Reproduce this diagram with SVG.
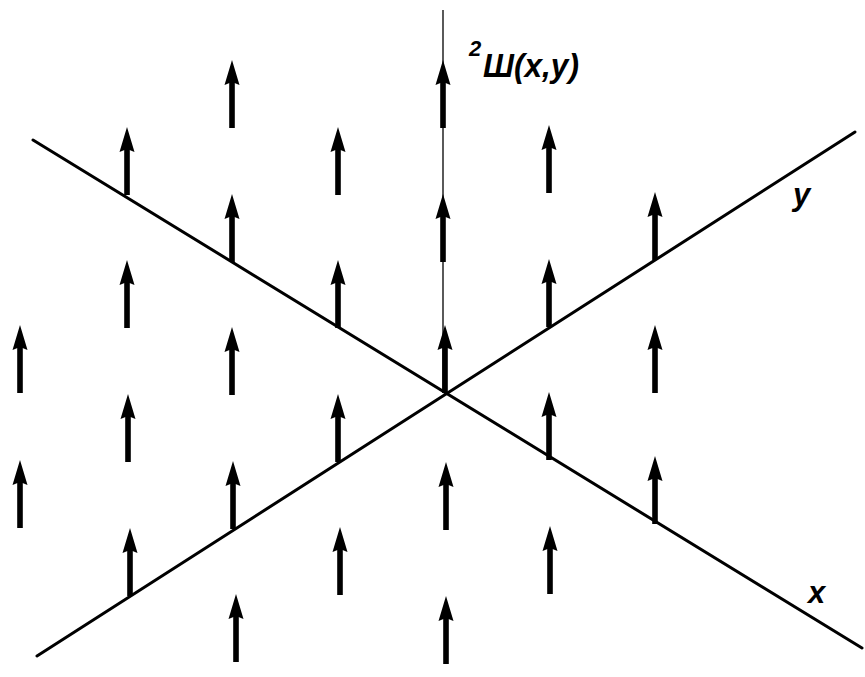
<svg xmlns="http://www.w3.org/2000/svg" xmlns:xlink="http://www.w3.org/1999/xlink" width="865" height="677" viewBox="0 0 865 677">
<style>
.ax{stroke:#000;stroke-width:3;fill:none;stroke-linecap:round}
.lbl{font-family:"Liberation Sans",Arial,sans-serif;font-weight:bold;font-style:italic;fill:#000}
</style>
<defs>
<g id="arr">
<rect x="-2.8" y="-47" width="5.6" height="47" fill="#000"/>
<polygon points="0,-68 7.5,-43 0,-46 -7.5,-43" fill="#000"/>
</g>
</defs>
<rect width="865" height="677" fill="#fff"/>
<g id="connectors">
<line class="ax" x1="33" y1="140" x2="862" y2="648"/>
<line class="ax" x1="37" y1="656" x2="855" y2="132"/>
<line x1="443" y1="10" x2="443" y2="393" stroke="#000" stroke-width="1.3"/>
</g>
<g id="lattice">
<g id="c-4"><use xlink:href="#arr" x="20" y="393"/><use xlink:href="#arr" x="20" y="528"/></g>
<g id="c-3"><use xlink:href="#arr" x="127" y="195"/><use xlink:href="#arr" x="127" y="328"/><use xlink:href="#arr" x="128" y="462"/><use xlink:href="#arr" x="130" y="596"/></g>
<g id="c-2"><use xlink:href="#arr" x="232" y="128"/><use xlink:href="#arr" x="232" y="262"/><use xlink:href="#arr" x="232" y="395"/><use xlink:href="#arr" x="233" y="529"/><use xlink:href="#arr" x="236" y="662"/></g>
<g id="c-1"><use xlink:href="#arr" x="338" y="195"/><use xlink:href="#arr" x="338" y="328"/><use xlink:href="#arr" x="338" y="462"/><use xlink:href="#arr" x="340" y="595"/></g>
<g id="c0"><use xlink:href="#arr" x="443" y="128"/><use xlink:href="#arr" x="443" y="262"/><use xlink:href="#arr" x="445" y="393"/><use xlink:href="#arr" x="446" y="530"/><use xlink:href="#arr" x="446" y="664"/></g>
<g id="c1"><use xlink:href="#arr" x="549" y="193"/><use xlink:href="#arr" x="549" y="327"/><use xlink:href="#arr" x="549" y="460"/><use xlink:href="#arr" x="550" y="594"/></g>
<g id="c2"><use xlink:href="#arr" x="655" y="260"/><use xlink:href="#arr" x="655" y="393"/><use xlink:href="#arr" x="655" y="524"/></g>
</g>
<g id="labels">
<text class="lbl" x="469" y="56" font-size="22">2</text>
<text class="lbl" x="483" y="77" font-size="33" textLength="96" lengthAdjust="spacingAndGlyphs">Ш(x,y)</text>
<text class="lbl" x="793" y="205" font-size="31">y</text>
<text class="lbl" x="808" y="603" font-size="31">x</text>
</g>
</svg>
